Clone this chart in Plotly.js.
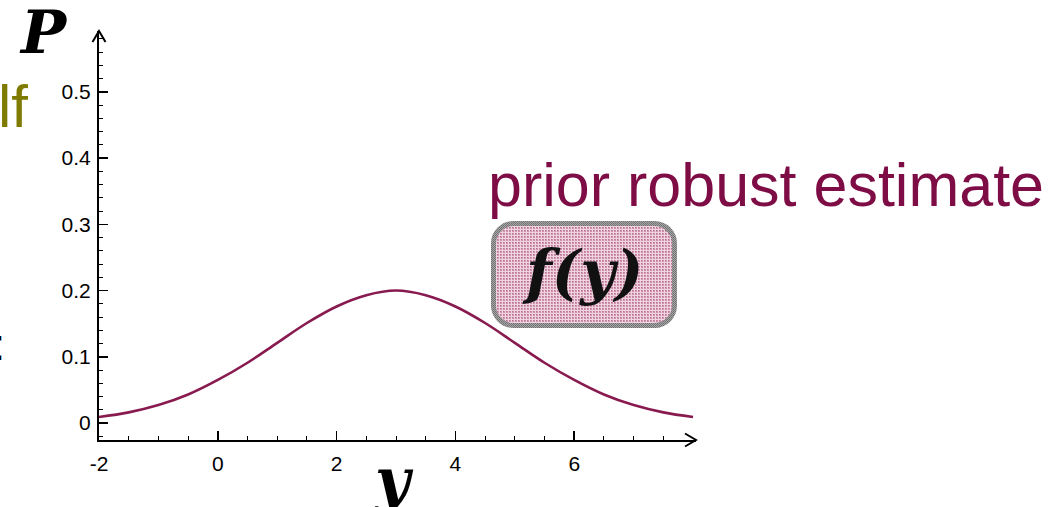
<!DOCTYPE html>
<html>
<head>
<meta charset="utf-8">
<script src="https://cdn.plot.ly/plotly-3.0.1.min.js"></script>
<style>
  html, body { margin: 0; padding: 0; background: #ffffff; }
  #chart { width: 1059px; height: 507px; }
</style>
</head>
<body>
<div id="chart"></div>
<script>
// Density curve P(y), sampled every 0.5 along y
const yGrid = [-2, -1.5, -1, -0.5, 0, 0.5, 1, 1.5, 2, 2.5, 3, 3.5, 4, 4.5, 5, 5.5, 6, 6.5, 7, 7.5, 8];
const density = [0.009, 0.016, 0.027, 0.043, 0.065, 0.091, 0.121, 0.151, 0.176, 0.193, 0.200,
                 0.193, 0.176, 0.151, 0.121, 0.091, 0.065, 0.043, 0.027, 0.016, 0.009];

// Axis ticks
const xTickVals = [-2, 0, 2, 4, 6];
const xTickText = ['-2', '0', '2', '4', '6'];
const xMinorVals = [-1.5, -1, -0.5, 0.5, 1, 1.5, 2.5, 3, 3.5, 4.5, 5, 5.5, 6.5, 7, 7.5];
const yTickVals = [0, 0.1, 0.2, 0.3, 0.4, 0.5];
const yTickText = ['0', '0.1', '0.2', '0.3', '0.4', '0.5'];

// Labels
const headline = 'prior robust estimate';
const boxLabel = 'f(y)';
const leftFragment = 'lf';
const leftColon = ':';
const xTitle = 'y';
const yTitle = 'P';

const curveColor = '#891a50';
const headlineColor = '#7e0d46';
const oliveColor = '#7f7b00';

// plot area in pixels
const W = 1059, H = 507;
const M = { l: 99, r: 363, t: 31, b: 67 };
const PW = W - M.l - M.r, PH = H - M.t - M.b;
const px = v => (v - M.l) / PW;        // page x -> paper x
const py = v => (H - M.b - v) / PH;    // page y -> paper y

const sansFont = 'Liberation Sans, Arial, Helvetica, sans-serif';
const mathFont = 'DejaVu Serif, serif';

// rounded, finely hatched label box
const boxW = 186, boxH = 107;
const boxSvg =
  `<svg xmlns='http://www.w3.org/2000/svg' width='${boxW}' height='${boxH}'>` +
  `<defs><pattern id='h' width='3' height='3' patternUnits='userSpaceOnUse'>` +
  `<rect width='3' height='3' fill='#efd3df'/><rect width='2' height='2' fill='#cf92ae'/>` +
  `<rect width='1' height='1' fill='#b9738f'/></pattern>` +
  `<pattern id='g' width='2' height='2' patternUnits='userSpaceOnUse'>` +
  `<rect width='2' height='2' fill='#a4a4a4'/><rect width='1' height='1' fill='#6f6f6f'/>` +
  `<rect x='1' y='1' width='1' height='1' fill='#7a7a7a'/></pattern></defs>` +
  `<rect x='2.5' y='2.5' width='${boxW - 5}' height='${boxH - 5}' rx='20' ry='20' ` +
  `fill='url(#h)' stroke='url(#g)' stroke-width='5'/></svg>`;

const trace = {
  x: yGrid,
  y: density,
  type: 'scatter',
  mode: 'lines',
  line: { color: curveColor, width: 2.6, shape: 'spline', smoothing: 1 },
  hoverinfo: 'skip',
  showlegend: false
};

const layout = {
  width: W,
  height: H,
  margin: M,
  paper_bgcolor: '#ffffff',
  plot_bgcolor: '#ffffff',
  showlegend: false,
  xaxis: {
    range: [-2, 8.05],
    showgrid: false,
    zeroline: false,
    showline: true,
    linecolor: '#000000',
    linewidth: 2,
    ticks: 'inside',
    ticklen: 9,
    tickwidth: 1.5,
    tickcolor: '#000000',
    tickmode: 'array',
    tickvals: xTickVals,
    ticktext: xTickText,
    ticklabelstandoff: 4,
    tickfont: { family: sansFont, size: 21, color: '#000000' },
    minor: { tickmode: 'array', tickvals: xMinorVals, ticks: 'inside', ticklen: 4, tickwidth: 1, tickcolor: '#000000' },
    fixedrange: true
  },
  yaxis: {
    range: [-0.0257, 0.592],
    showgrid: false,
    zeroline: false,
    showline: true,
    linecolor: '#000000',
    linewidth: 2,
    ticks: 'inside',
    ticklen: 9,
    tickwidth: 1.5,
    tickcolor: '#000000',
    tickmode: 'array',
    tickvals: yTickVals,
    ticktext: yTickText,
    ticklabelstandoff: 2,
    tickfont: { family: sansFont, size: 21, color: '#000000' },
    minor: { dtick: 0.02, tick0: 0, ticks: 'inside', ticklen: 4, tickwidth: 1, tickcolor: '#000000' },
    fixedrange: true
  },
  shapes: [
    // arrowhead at the end of the horizontal axis
    { type: 'path', xref: 'paper', yref: 'paper', xsizemode: 'pixel', ysizemode: 'pixel',
      xanchor: 1, yanchor: 0, path: 'M -11,6.5 L 0,0 L -11,-6.5',
      line: { color: '#000000', width: 2 } },
    // arrowhead at the top of the vertical axis
    { type: 'path', xref: 'paper', yref: 'paper', xsizemode: 'pixel', ysizemode: 'pixel',
      xanchor: 0, yanchor: 1, path: 'M -6.5,-11 L 0,0 L 6.5,-11',
      line: { color: '#000000', width: 2 } }
  ],
  images: [
    { source: 'data:image/svg+xml;charset=utf-8,' + encodeURIComponent(boxSvg),
      xref: 'paper', yref: 'paper', x: px(491), y: py(221),
      sizex: boxW / PW, sizey: boxH / PH, xanchor: 'left', yanchor: 'top',
      sizing: 'stretch', layer: 'above' }
  ],
  annotations: [
    { text: headline, xref: 'paper', yref: 'paper', x: px(486), y: py(185),
      xanchor: 'left', yanchor: 'middle', showarrow: false,
      font: { family: sansFont, size: 61, color: headlineColor } },
    { text: boxLabel, xref: 'paper', yref: 'paper', x: px(582), y: py(272),
      xanchor: 'center', yanchor: 'middle', showarrow: false,
      font: { family: mathFont, size: 60, color: '#111111', style: 'italic', weight: 'bold' } },
    { text: leftFragment, xref: 'paper', yref: 'paper', x: px(-4), y: py(106),
      xanchor: 'left', yanchor: 'middle', showarrow: false,
      font: { family: sansFont, size: 60, color: oliveColor } },
    { text: leftColon, xref: 'paper', yref: 'paper', x: px(7), y: py(344),
      xanchor: 'right', yanchor: 'middle', showarrow: false,
      font: { family: sansFont, size: 44, color: '#000000' } },
    { text: yTitle, xref: 'paper', yref: 'paper', x: px(43), y: py(32),
      xanchor: 'center', yanchor: 'middle', showarrow: false,
      font: { family: mathFont, size: 60, color: '#000000', style: 'italic', weight: 'bold' } },
    { text: xTitle, xref: 'paper', yref: 'paper', x: px(393), y: py(480),
      xanchor: 'center', yanchor: 'middle', showarrow: false,
      font: { family: mathFont, size: 60, color: '#000000', style: 'italic', weight: 'bold' } }
  ]
};

Plotly.newPlot('chart', [trace], layout, { staticPlot: true, displayModeBar: false });
</script>
</body>
</html>
